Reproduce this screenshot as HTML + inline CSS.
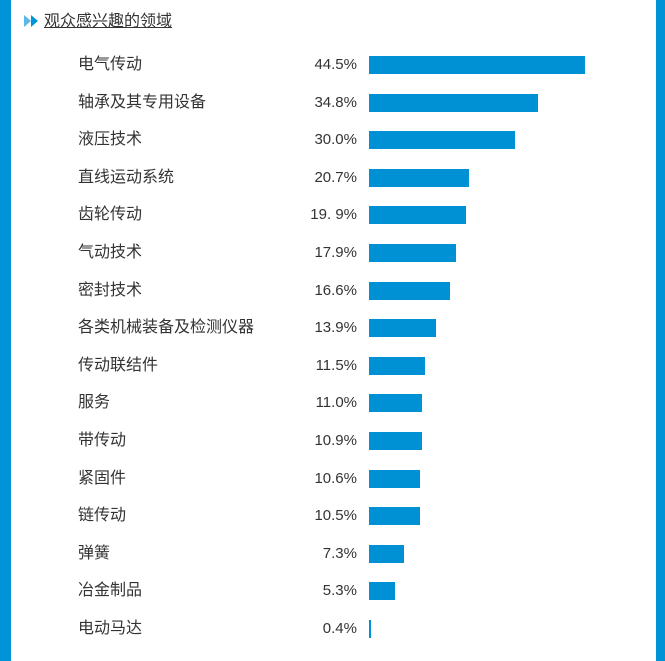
<!DOCTYPE html>
<html><head><meta charset="utf-8"><style>
html,body{margin:0;padding:0;}
body{width:665px;height:661px;position:relative;background:#fff;overflow:hidden;font-family:"Liberation Sans","Noto Sans CJK SC",sans-serif;color:#333;}
.edge{position:absolute;top:0;height:661px;background:#0094d6;}
#title{position:absolute;left:44px;top:12px;font-size:16px;text-decoration:underline;color:#333;line-height:20px;}
.lbl{position:absolute;left:78px;font-size:16px;line-height:20px;color:#333;white-space:nowrap;}
.val{position:absolute;right:308px;font-size:15px;line-height:20px;color:#333;white-space:nowrap;text-align:right;}
.bar{position:absolute;background:#0090d4;height:18px;}
</style></head><body>
<div class="edge" style="left:0;width:11px"></div>
<div class="edge" style="left:656px;width:9px"></div>
<svg style="position:absolute;left:24px;top:13px" width="16" height="16">
<polygon points="0,2 7,8 0,14" fill="#5bb8e8"/><polygon points="7,2 14,8 7,14" fill="#0094d6"/></svg>
<div id="title">观众感兴趣的领域</div>
<div id="chart"></div>
<script>
const categories=["电气传动","轴承及其专用设备","液压技术","直线运动系统","齿轮传动","气动技术","密封技术","各类机械装备及检测仪器","传动联结件","服务","带传动","紧固件","链传动","弹簧","冶金制品","电动马达"];
const values=[44.5,34.8,30.0,20.7,19.9,17.9,16.6,13.9,11.5,11.0,10.9,10.6,10.5,7.3,5.3,0.4];
const valueLabels=["44.5%","34.8%","30.0%","20.7%","19. 9%","17.9%","16.6%","13.9%","11.5%","11.0%","10.9%","10.6%","10.5%","7.3%","5.3%","0.4%"];
const x0=369, pxPer=216/44.5;
function xScale(v){return Math.max(2,v*pxPer);}
function yScale(i){return 65+i*37.6;}
const c=document.getElementById('chart');
categories.forEach((cat,i)=>{
  const y=yScale(i);
  const l=document.createElement('div');l.className='lbl';l.style.top=(y-10)+'px';l.textContent=cat;
  
  
  c.appendChild(l);
  const v=document.createElement('div');v.className='val';v.style.top=(y-10)+'px';v.textContent=valueLabels[i];
  
  
  c.appendChild(v);
  const b=document.createElement('div');b.className='bar';b.style.left=x0+'px';b.style.top=(y-9)+'px';b.style.width=xScale(values[i])+'px';
  
  
  c.appendChild(b);
});
</script>
</body></html>
